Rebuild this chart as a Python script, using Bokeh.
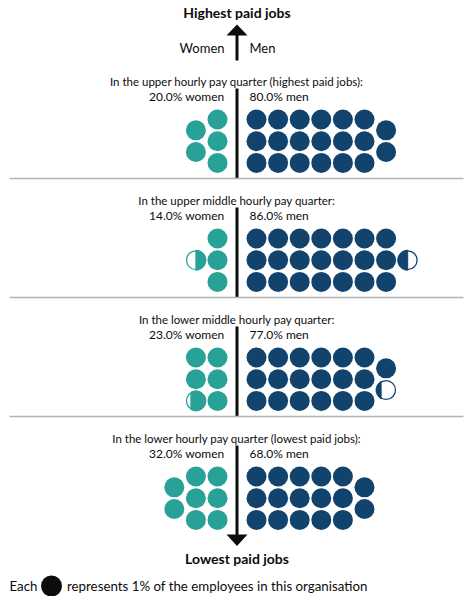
import math
import numpy as np
from bokeh.plotting import figure
from bokeh.models import Range1d
from bokeh.core.properties import value
from bokeh.embed import file_html
from bokeh.resources import INLINE

# ---- data ----
quarter_titles = [
    "In the upper hourly pay quarter (highest paid jobs):",
    "In the upper middle hourly pay quarter:",
    "In the lower middle hourly pay quarter:",
    "In the lower hourly pay quarter (lowest paid jobs):",
]
women_pct = [20.0, 14.0, 23.0, 32.0]
men_pct = [80.0, 86.0, 77.0, 68.0]
pct_per_dot = 4.0
top_label = "Highest paid jobs"
bottom_label = "Lowest paid jobs"
legend_left = "Each"
legend_right = "represents 1% of the employees in this organisation"

# ---- style ----
TEAL = "#28a197"
NAVY = "#12436d"
INK = "#0b0c0c"
GREY = "#b1b4b6"
FONT = "Lato"
W, H = 468, 596

p = figure(width=W, height=H, output_backend="svg", toolbar_location=None,
           x_range=Range1d(0, W), y_range=Range1d(H, 0),
           min_border=0, outline_line_color=None)
p.axis.visible = False
p.grid.visible = False
p.background_fill_color = "white"

CX = 236.5
R = 10.0
DX = 21.6
DY = 21.7
OFF = 19.5
PERIOD = 119.0
TOP0 = 81.0


def txt(x, y, s, size="11.5px", align="center", bold=False, color=INK):
    p.text(x=[x], y=[y], text=[s], text_font=value(FONT), text_font_size=size,
           text_align=align, text_baseline="middle", text_color=color,
           text_font_style="bold" if bold else "normal")


def partial_patch(cx, cy, frac, side):
    # side=+1: fill from the right edge leftwards; side=-1: from left edge rightwards
    x0 = 1 - 2 * frac
    th0 = math.acos(max(-1.0, min(1.0, x0)))
    th = np.linspace(-th0, th0, 60)
    xs = np.cos(th) * R
    ys = np.sin(th) * R
    if side < 0:
        xs = -xs
    return list(cx + xs), list(cy + ys)


# top header
txt(CX, 12, top_label, size="14px", bold=True)
p.patch(x=[CX - 10.5, CX + 10.5, CX], y=[35, 35, 24], color=INK, line_width=0)
p.line(x=[CX, CX], y=[34, 60], line_color=INK, line_width=3)
txt(224, 47, "Women", size="13px", align="right")
txt(249, 47, "Men", size="13px", align="left")

full_x, full_y, full_c = [], [], []
part_cx, part_cy, part_c = [], [], []
patch_xs, patch_ys, patch_c = [], [], []

for i, title in enumerate(quarter_titles):
    t = TOP0 + PERIOD * i
    txt(CX, t, title)
    txt(224, t + 15, f"{women_pct[i]:.1f}% women", size="12px", align="right")
    txt(249, t + 15, f"{men_pct[i]:.1f}% men", size="12px", align="left")
    y_end = t + 97 if i < 3 else 535
    p.line(x=[CX, CX], y=[t + 7, y_end], line_color=INK, line_width=3)
    if i < 3:
        p.line(x=[9, 463], y=[t + 97, t + 97], line_color=GREY, line_width=1.5)

    for pct, side, color in ((women_pct[i], -1, TEAL), (men_pct[i], 1, NAVY)):
        n = pct / pct_per_dot
        ncols = int(n // 3)
        rem = n - 3 * ncols
        items = []
        for c in range(ncols):
            for r in range(3):
                items.append((c, r, 1.0))
        if rem > 1e-9:
            k = math.ceil(rem - 1e-9)
            rows = {3: [0, 1, 2], 2: [0.5, 1.5], 1: [1]}[k]
            for j, r in enumerate(rows):
                f = 1.0 if j < k - 1 else rem - (k - 1)
                items.append((ncols, r, f))
        for c, r, f in items:
            x = CX + side * (OFF + DX * c)
            y = t + 38 + DY * r
            if f >= 0.999:
                full_x.append(x); full_y.append(y); full_c.append(color)
            else:
                part_cx.append(x); part_cy.append(y); part_c.append(color)
                xs, ys = partial_patch(x, y, f, -side)
                patch_xs.append(xs); patch_ys.append(ys); patch_c.append(color)

p.circle(x=full_x, y=full_y, radius=R, fill_color=full_c, line_color=None)
p.circle(x=part_cx, y=part_cy, radius=R - 0.6, fill_color="white",
         line_color=part_c, line_width=1.3)
p.patches(xs=patch_xs, ys=patch_ys, fill_color=patch_c, line_color=patch_c,
          line_width=1.0)

# bottom arrow
p.patch(x=[CX - 10.5, CX + 10.5, CX], y=[534, 534, 545.5], color=INK, line_width=0)
txt(CX, 558, bottom_label, size="14px", bold=True)

# legend
txt(9, 585.5, legend_left, size="13.3px", align="left")
p.circle(x=[51], y=[585.5], radius=10.5, fill_color=INK, line_color=None)
txt(66.5, 585.5, legend_right, size="13.3px", align="left")

open("out.html", "w").write(file_html(p, INLINE))
